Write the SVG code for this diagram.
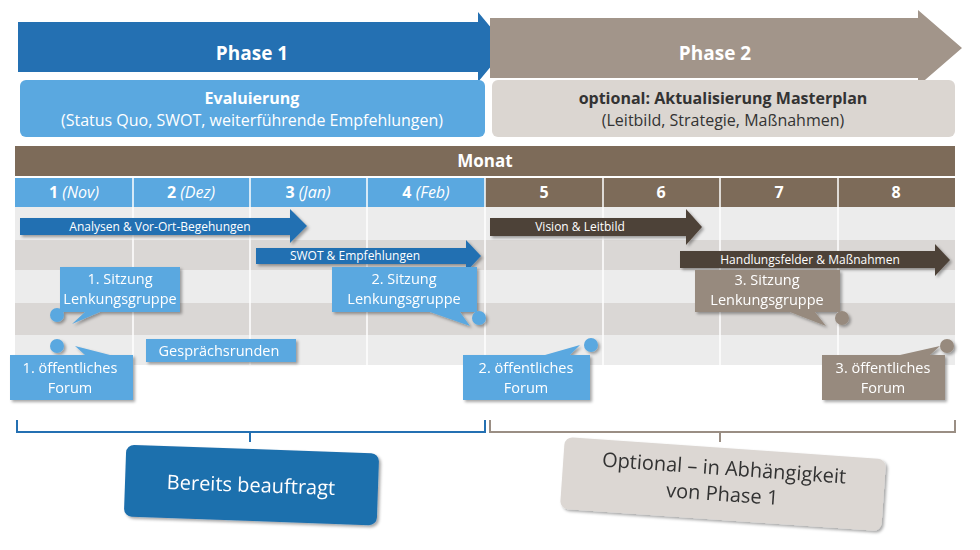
<svg xmlns="http://www.w3.org/2000/svg" width="980" height="550" viewBox="0 0 980 550">
<defs>
<style>
text{font-family:"Open Sans","Liberation Sans",sans-serif}
.w{fill:#fff}
.hb{font-weight:bold;font-size:19px;fill:#fff}
.mb{font-size:16px;fill:#fff}
.bar{font-size:12px;fill:#fff}
.call{font-size:14.5px;fill:#fff}
.lt{fill:#ececec}.dk{fill:#dad7d5}
.bl{fill:#5aa8e0}.gr{fill:#978a7e}
.vl{stroke:#fff;stroke-width:1.5}
</style>
<filter id="sh" x="-10%" y="-20%" width="130%" height="150%"><feDropShadow dx="2" dy="2" stdDeviation="1.5" flood-opacity="0.35"/></filter>
</defs>
<g id="phase1"><path d="M18 22H478V12L507 47L478 82V72H18Z" fill="#2470b2"/><text x="252" y="60" text-anchor="middle" class="hb">Phase 1</text></g>
<g id="phase2"><path d="M490 18H918V10L962 48L918 86V78H490Z" fill="#a2958a"/><text x="715" y="60" text-anchor="middle" class="hb">Phase 2</text></g>
<g id="evaluierung"><rect x="20" y="80" width="465" height="57" rx="6" fill="#5aa8e0"/><text x="252" y="104" text-anchor="middle" class="w" font-weight="bold" font-size="16">Evaluierung</text><text x="252" y="126" text-anchor="middle" class="w" font-size="16">(Status Quo, SWOT, weiterführende Empfehlungen)</text></g>
<g id="aktualisierung"><rect x="492" y="80" width="463" height="57" rx="6" fill="#dbd6d1"/><text x="723" y="104" text-anchor="middle" fill="#333" font-weight="bold" font-size="16">optional: Aktualisierung Masterplan</text><text x="723" y="126" text-anchor="middle" fill="#333" font-size="16">(Leitbild, Strategie, Maßnahmen)</text></g>
<g id="table">
<rect x="15" y="146" width="940" height="30" fill="#7d6b59"/>
<text x="485" y="167" text-anchor="middle" class="w" font-weight="bold" font-size="17">Monat</text>
<rect x="15" y="178" width="470" height="29" fill="#5aa8e0"/>
<rect x="485" y="178" width="470" height="29" fill="#7d6b59"/>
<rect x="15" y="207" width="940" height="33" class="lt"/>
<rect x="15" y="240" width="940" height="30" class="dk"/>
<rect x="15" y="270" width="940" height="33" class="lt"/>
<rect x="15" y="303" width="940" height="32" class="dk"/>
<rect x="15" y="335" width="940" height="30" class="lt"/>
<g class="vl"><line x1="133" y1="178" x2="133" y2="365"/><line x1="250" y1="178" x2="250" y2="365"/><line x1="367" y1="178" x2="367" y2="365"/><line x1="485" y1="178" x2="485" y2="365"/><line x1="603" y1="178" x2="603" y2="365"/><line x1="720" y1="178" x2="720" y2="365"/><line x1="838" y1="178" x2="838" y2="365"/></g>
<g class="mb" text-anchor="middle">
<text x="74" y="198"><tspan font-weight="bold">1</tspan> <tspan font-style="italic">(Nov)</tspan></text>
<text x="191" y="198"><tspan font-weight="bold">2</tspan> <tspan font-style="italic">(Dez)</tspan></text>
<text x="308" y="198"><tspan font-weight="bold">3</tspan> <tspan font-style="italic">(Jan)</tspan></text>
<text x="426" y="198"><tspan font-weight="bold">4</tspan> <tspan font-style="italic">(Feb)</tspan></text>
<text x="544" y="198" font-weight="bold">5</text><text x="661" y="198" font-weight="bold">6</text><text x="779" y="198" font-weight="bold">7</text><text x="896" y="198" font-weight="bold">8</text>
</g>
</g>
<g id="connectors" filter="url(#sh)">
<path d="M20 218H290V209L307 226L290 243V235H20Z" fill="#2470b2"/>
<path d="M256 248H466V240L481 256L466 272V264H256Z" fill="#2470b2"/>
<path d="M490 218H686V209L702 227L686 245V236H490Z" fill="#4e4238"/>
<path d="M680 251H935V244L950 260L935 276V268H680Z" fill="#4e4238"/>
</g>
<g class="bar" text-anchor="middle">
<text x="160" y="231">Analysen &amp; Vor-Ort-Begehungen</text>
<text x="355" y="260">SWOT &amp; Empfehlungen</text>
<text x="580" y="231">Vision &amp; Leitbild</text>
<text x="810" y="264">Handlungsfelder &amp; Maßnahmen</text>
</g>
<g id="sitzung1" filter="url(#sh)"><path d="M60 267H180V312H100L72 324L85 312H60Z" class="bl"/><circle cx="57" cy="315" r="7" class="bl"/><text x="120" y="284" text-anchor="middle" class="call">1. Sitzung</text><text x="120" y="304" text-anchor="middle" class="call">Lenkungsgruppe</text></g>
<g id="sitzung2" filter="url(#sh)"><path d="M332 267H477V312H460L470 326L430 312H332Z" class="bl"/><circle cx="479" cy="318" r="7" class="bl"/><text x="404" y="284" text-anchor="middle" class="call">2. Sitzung</text><text x="404" y="304" text-anchor="middle" class="call">Lenkungsgruppe</text></g>
<g id="sitzung3" filter="url(#sh)"><path d="M695 270H840V312H815L826 326L790 312H695Z" class="gr"/><circle cx="842" cy="318" r="7" class="gr"/><text x="767" y="285" text-anchor="middle" class="call">3. Sitzung</text><text x="767" y="305" text-anchor="middle" class="call">Lenkungsgruppe</text></g>
<g id="gespraech" filter="url(#sh)"><rect x="146" y="339" width="150" height="23" class="bl"/><text x="219" y="356" text-anchor="middle" class="call">Gesprächsrunden</text></g>
<g id="forum1" filter="url(#sh)"><path d="M10 355H85L75 346L110 355H133V400H10Z" class="bl"/><circle cx="57" cy="346" r="7" class="bl"/><text x="70" y="373" text-anchor="middle" class="call">1. öffentliches</text><text x="70" y="393" text-anchor="middle" class="call">Forum</text></g>
<g id="forum2" filter="url(#sh)"><path d="M463 355H545L580 345L570 355H590V400H463Z" class="bl"/><circle cx="591" cy="345" r="7" class="bl"/><text x="526" y="373" text-anchor="middle" class="call">2. öffentliches</text><text x="526" y="393" text-anchor="middle" class="call">Forum</text></g>
<g id="forum3" filter="url(#sh)"><path d="M822 355H900L940 346L930 355H945V400H822Z" class="gr"/><circle cx="947" cy="346" r="7" class="gr"/><text x="883" y="373" text-anchor="middle" class="call">3. öffentliches</text><text x="883" y="393" text-anchor="middle" class="call">Forum</text></g>
<g id="braces" fill="none" stroke-width="2">
<path d="M17 420V432H250V442M250 432H485V420" stroke="#2470b2"/>
<path d="M490 420V432H720V442M720 432H955V420" stroke="#9a8e84"/>
</g>
<g id="beauftragt" filter="url(#sh)"><rect x="125" y="449" width="253" height="72" rx="8" fill="#1f6fad" transform="rotate(2 251 485)"/><text x="251" y="492" text-anchor="middle" class="w" font-size="20" transform="rotate(2 251 485)">Bereits beauftragt</text></g>
<g id="optional" filter="url(#sh)"><rect x="562" y="448" width="322" height="72" rx="8" fill="#dcd7d3" transform="rotate(4 723 484)"/><text x="723" y="475" text-anchor="middle" fill="#333" font-size="20" transform="rotate(4 723 484)">Optional – in Abhängigkeit</text><text x="723" y="501" text-anchor="middle" fill="#333" font-size="20" transform="rotate(4 723 484)">von Phase 1</text></g>
</svg>
